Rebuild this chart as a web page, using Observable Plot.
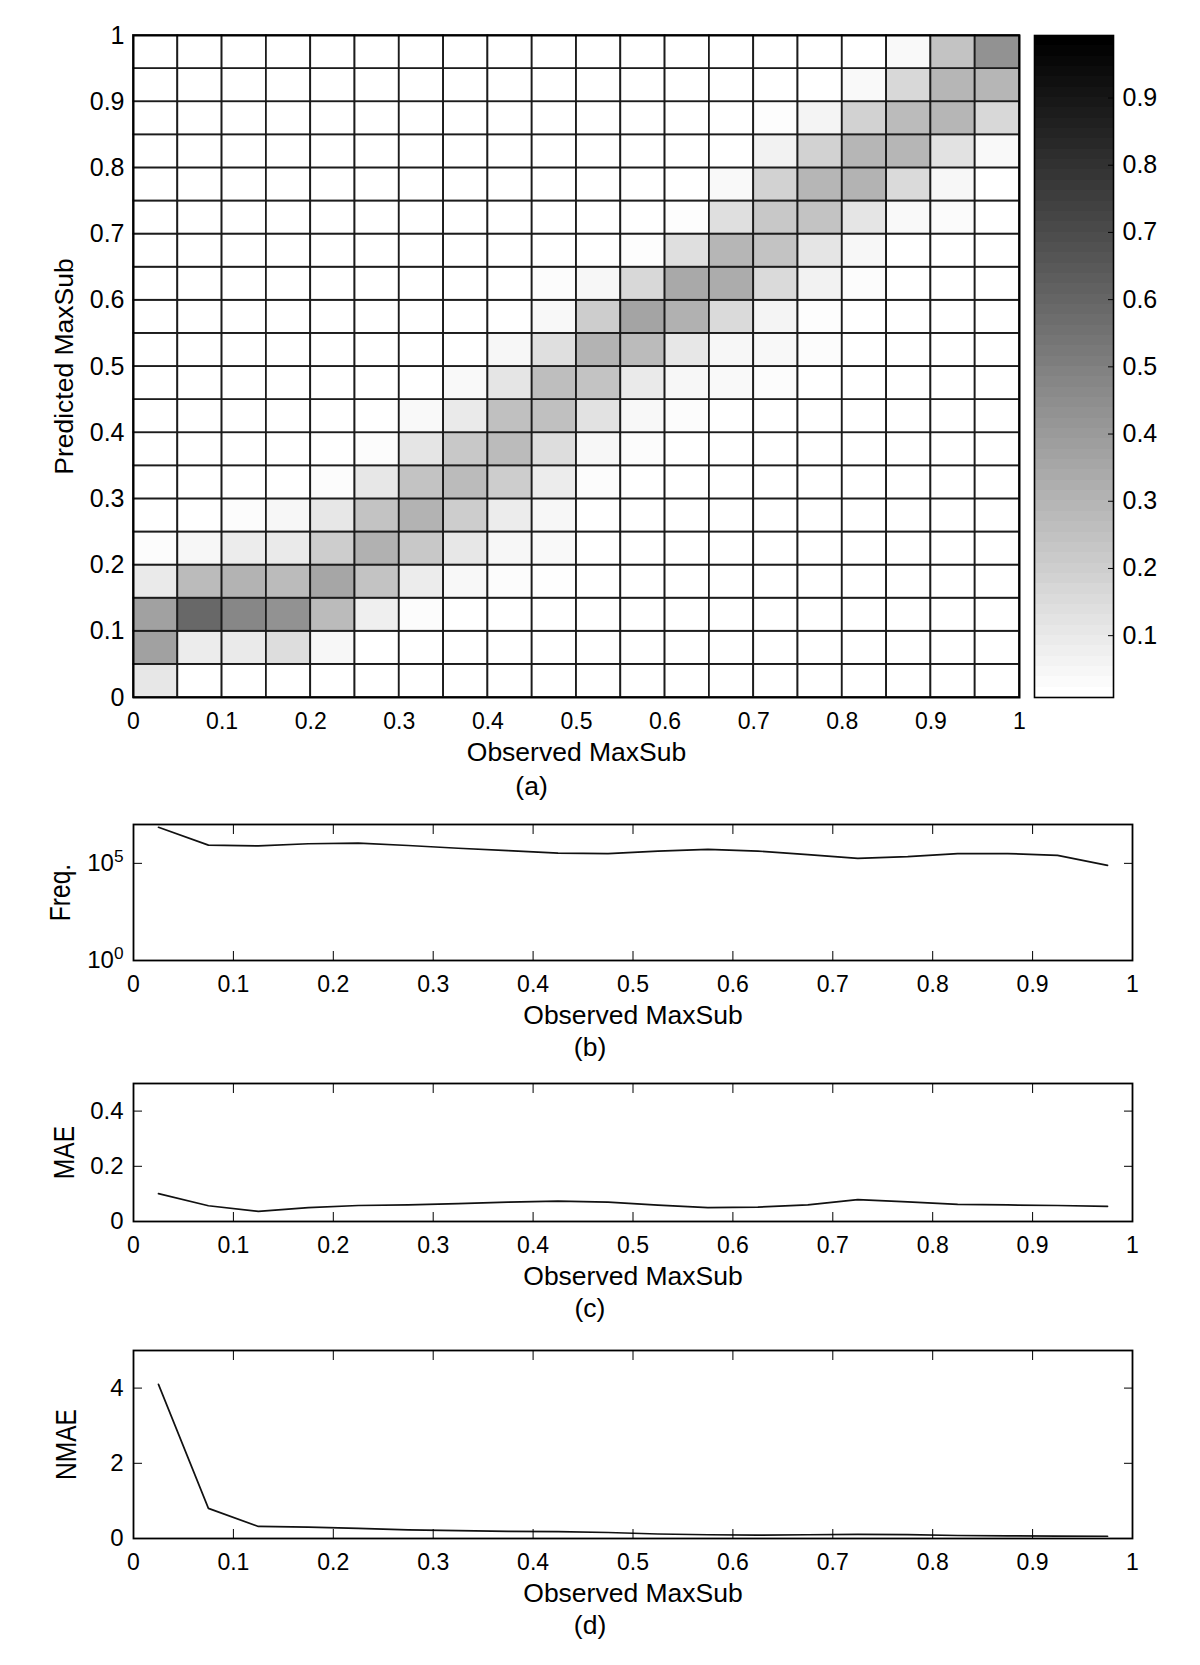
<!DOCTYPE html>
<html>
<head>
<meta charset="utf-8">
<script src="https://cdn.jsdelivr.net/npm/d3@7"></script>
<script src="https://cdn.jsdelivr.net/npm/@observablehq/plot@0.6"></script>
<style>
  html, body { margin: 0; padding: 0; background: #fff; }
  #root { position: relative; width: 1200px; height: 1665px; background: #fff; overflow: hidden; }
  #root svg { position: absolute; left: 0; }
</style>
</head>
<body>
<div id="root"></div>
<script>
// ---------- DATA ----------
const binEdges = [0, 0.05, 0.1, 0.15, 0.2, 0.25, 0.3, 0.35, 0.4, 0.45, 0.5,
                  0.55, 0.6, 0.65, 0.7, 0.75, 0.8, 0.85, 0.9, 0.95, 1];
const binCenters = [0.025, 0.075, 0.125, 0.175, 0.225, 0.275, 0.325, 0.375, 0.425, 0.475,
                    0.525, 0.575, 0.625, 0.675, 0.725, 0.775, 0.825, 0.875, 0.925, 0.975];
const unitTicks = [0, 0.1, 0.2, 0.3, 0.4, 0.5, 0.6, 0.7, 0.8, 0.9, 1];
const colorbarTicks = [0.1, 0.2, 0.3, 0.4, 0.5, 0.6, 0.7, 0.8, 0.9];

// Heatmap: one array per predicted-MaxSub bin (row 0 = 0–0.05 ... row 19 = 0.95–1),
// each entry = share for observed-MaxSub bin (column 0 = 0–0.05 ...)
const predictedRows = [
  [0.10,0,0,0,0,0,0,0,0,0,0,0,0,0,0,0,0,0,0,0],
  [0.37,0.08,0.09,0.14,0.04,0,0,0,0,0,0,0,0,0,0,0,0,0,0,0],
  [0.37,0.59,0.47,0.43,0.27,0.07,0.02,0,0,0,0,0,0,0,0,0,0,0,0,0],
  [0.09,0.27,0.30,0.27,0.35,0.24,0.08,0.035,0.02,0.01,0,0,0,0,0,0,0,0,0,0],
  [0.02,0.04,0.08,0.09,0.20,0.31,0.22,0.10,0.04,0.03,0,0,0,0,0,0,0,0,0,0],
  [0,0,0.02,0.04,0.10,0.24,0.30,0.20,0.08,0.04,0,0,0,0,0,0,0,0,0,0],
  [0,0,0,0,0.02,0.10,0.24,0.27,0.20,0.08,0.02,0,0,0,0,0,0,0,0,0],
  [0,0,0,0,0,0.02,0.11,0.22,0.27,0.14,0.04,0.02,0,0,0,0,0,0,0,0],
  [0,0,0,0,0,0,0.03,0.09,0.25,0.25,0.12,0.035,0.02,0,0,0,0,0,0,0],
  [0,0,0,0,0,0,0,0.03,0.11,0.26,0.24,0.09,0.04,0.03,0.02,0,0,0,0,0],
  [0,0,0,0,0,0,0,0,0.04,0.13,0.30,0.27,0.10,0.04,0.035,0.02,0,0,0,0],
  [0,0,0,0,0,0,0,0,0,0.035,0.20,0.36,0.31,0.15,0.05,0.015,0,0,0,0],
  [0,0,0,0,0,0,0,0,0,0.02,0.04,0.16,0.34,0.33,0.15,0.06,0.02,0,0,0],
  [0,0,0,0,0,0,0,0,0,0,0,0.015,0.13,0.29,0.24,0.11,0.04,0,0,0],
  [0,0,0,0,0,0,0,0,0,0,0,0,0.015,0.13,0.22,0.24,0.11,0.03,0.025,0],
  [0,0,0,0,0,0,0,0,0,0,0,0,0,0.03,0.18,0.29,0.30,0.15,0.04,0],
  [0,0,0,0,0,0,0,0,0,0,0,0,0,0,0.06,0.18,0.29,0.29,0.12,0.03],
  [0,0,0,0,0,0,0,0,0,0,0,0,0,0,0.015,0.05,0.18,0.27,0.29,0.16],
  [0,0,0,0,0,0,0,0,0,0,0,0,0,0,0,0,0.03,0.16,0.29,0.29],
  [0,0,0,0,0,0,0,0,0,0,0,0,0,0,0,0,0,0.03,0.24,0.43]
];
const colorLimits = [0.008, 0.993];

// (b) frequency per observed bin (log scale)
const freqValues = [7.2e6, 8.7e5, 7.9e5, 1.02e6, 1.1e6, 8.3e5, 6.0e5, 4.5e5, 3.4e5, 3.2e5,
                    4.3e5, 5.2e5, 4.3e5, 2.8e5, 1.8e5, 2.2e5, 3.2e5, 3.2e5, 2.6e5, 7.9e4];
const freqTicks = [1, 1e5];
// (c) MAE per observed bin
const maeValues = [0.101, 0.057, 0.037, 0.050, 0.058, 0.060, 0.065, 0.070, 0.074, 0.070,
                   0.059, 0.050, 0.052, 0.060, 0.079, 0.071, 0.062, 0.060, 0.058, 0.055];
const maeTicks = [0, 0.2, 0.4];
// (d) NMAE per observed bin
const nmaeValues = [4.1, 0.80, 0.32, 0.30, 0.27, 0.23, 0.21, 0.19, 0.185, 0.16,
                    0.12, 0.10, 0.09, 0.10, 0.11, 0.105, 0.08, 0.07, 0.065, 0.06];
const nmaeTicks = [0, 2, 4];

// ---------- STYLE ----------
const SANS = "'Liberation Sans', Arial, sans-serif";
const YLAB = "Liberation Sans, Arimo, sans-serif"; // marker font string for condensed y labels
const baseStyle = {background: "transparent", color: "black", fontFamily: SANS, overflow: "visible"};
const colorScale = {type: "linear", domain: colorLimits, range: ["#ffffff", "#000000"], clamp: true};
const fmt = d => String(d);
const supDigits = "⁰¹²³⁴⁵⁶⁷⁸⁹";
const root = document.getElementById("root");

function finish(svg, top) {
  // condense the panel y labels along their length
  d3.select(svg).selectAll(`g[font-family="${YLAB}"] text`).each(function () {
    const t = this.getAttribute("transform") || "";
    this.setAttribute("transform", t + " scale(0.82,1)");
  });
  // render 10^k tick labels with a real superscript
  d3.select(svg).selectAll("text").each(function () {
    const s = this.textContent;
    if (/^10[⁰¹²³⁴⁵⁶⁷⁸⁹]$/.test(s)) {
      const k = supDigits.indexOf(s[2]);
      const el = d3.select(this);
      el.text("10");
      el.append("tspan").attr("dy", "-0.55em").attr("font-size", "0.72em").text(String(k));
    }
  });
  svg.style.top = top + "px";
  root.appendChild(svg);
}

// ---------- (a) heatmap ----------
const cells = [];
predictedRows.forEach((row, j) => row.forEach((v, i) => cells.push({
  x1: binEdges[i], x2: binEdges[i + 1], y1: binEdges[j], y2: binEdges[j + 1], v
})));

const heat = Plot.plot({
  width: 1200, height: 807,
  marginLeft: 133, marginRight: 181, marginTop: 35, marginBottom: 110,
  style: baseStyle,
  x: {domain: [0, 1], label: null},
  y: {domain: [0, 1], label: null},
  color: colorScale,
  marks: [
    Plot.rect(cells, {x1: "x1", x2: "x2", y1: "y1", y2: "y2", fill: "v", stroke: "#1c1c1c", strokeWidth: 1.8}),
    Plot.frame({stroke: "#000", strokeWidth: 2}),
    Plot.axisX(unitTicks, {anchor: "bottom", tickSize: 0, tickPadding: 15, tickFormat: fmt, fontSize: 23, label: null}),
    Plot.axisY(unitTicks, {anchor: "left", tickSize: 0, tickPadding: 9, tickFormat: fmt, fontSize: 25, label: null}),
    Plot.text(["Observed MaxSub"], {text: d => d, frameAnchor: "bottom", lineAnchor: "middle", dy: 55, fontSize: 26.5}),
    Plot.text(["(a)"], {text: d => d, frameAnchor: "bottom", lineAnchor: "middle", dy: 89, dx: -45, fontSize: 26.5}),
    Plot.text(["Predicted MaxSub"], {text: d => d, frameAnchor: "left", textAnchor: "middle", lineAnchor: "middle", dx: -69, rotate: -90, fontSize: 26.5})
  ]
});
finish(heat, 0);

// ---------- colorbar ----------
const nLevels = 64;
const span = colorLimits[1] - colorLimits[0];
const levels = d3.range(nLevels).map(i => ({
  y1: colorLimits[0] + i * span / nLevels,
  y2: colorLimits[0] + (i + 1) * span / nLevels,
  v: colorLimits[0] + i * span / (nLevels - 1)
}));
const cbar = Plot.plot({
  width: 1200, height: 807,
  marginLeft: 1034, marginRight: 87, marginTop: 35, marginBottom: 110,
  style: baseStyle,
  y: {domain: colorLimits, label: null},
  color: colorScale,
  marks: [
    Plot.rect(levels, {y1: "y1", y2: "y2", fill: "v", shapeRendering: "crispEdges"}),
    Plot.frame({stroke: "#000", strokeWidth: 1.6}),
    Plot.axisY(colorbarTicks, {anchor: "right", tickSize: -6, tickFormat: () => "", label: null}),
    Plot.axisY(colorbarTicks, {anchor: "right", tickSize: 0, tickPadding: 9, tickFormat: fmt, fontSize: 25, label: null})
  ]
});
finish(cbar, 0);

// ---------- line panels ----------
function panel({values, yOpts, yTicks, yFmt, ylabel, ylabelDx, caption, marginTop, frameHeight}) {
  const data = binCenters.map((x, i) => ({x, y: values[i]}));
  return Plot.plot({
    width: 1200, height: marginTop + frameHeight + 100,
    marginLeft: 133, marginRight: 68, marginTop, marginBottom: 100,
    style: baseStyle,
    x: {domain: [0, 1], label: null},
    y: {...yOpts, label: null},
    marks: [
      Plot.line(data, {x: "x", y: "y", stroke: "#111", strokeWidth: 1.7}),
      Plot.frame({stroke: "#000", strokeWidth: 1.8}),
      Plot.axisX(unitTicks, {anchor: "bottom", tickSize: -9, tickFormat: () => "", label: null}),
      Plot.axisX(unitTicks, {anchor: "top", tickSize: -9, tickFormat: () => "", label: null}),
      Plot.axisY(yTicks, {anchor: "left", tickSize: -9, tickFormat: () => "", label: null}),
      Plot.axisY(yTicks, {anchor: "right", tickSize: -9, tickFormat: () => "", label: null}),
      Plot.axisX(unitTicks, {anchor: "bottom", tickSize: 0, tickPadding: 15, tickFormat: fmt, fontSize: 23, label: null}),
      Plot.axisY(yTicks, {anchor: "left", tickSize: 0, tickPadding: 10, tickFormat: yFmt, fontSize: 24, label: null}),
      Plot.text(["Observed MaxSub"], {text: d => d, frameAnchor: "bottom", lineAnchor: "middle", dy: 55, fontSize: 26.5}),
      Plot.text([caption], {text: d => d, frameAnchor: "bottom", lineAnchor: "middle", dy: 87, dx: -43, fontSize: 26.5}),
      Plot.text([ylabel], {text: d => d, frameAnchor: "left", textAnchor: "middle", lineAnchor: "middle", dx: ylabelDx, rotate: -90, fontSize: 30, fontFamily: YLAB})
    ]
  });
}

finish(panel({
  values: freqValues, yOpts: {type: "log", domain: [1, 1e7]}, yTicks: freqTicks,
  yFmt: d => "10" + supDigits[Math.round(Math.log10(d))],
  ylabel: "Freq.", ylabelDx: -73, caption: "(b)", marginTop: 44, frameHeight: 136
}), 780);

finish(panel({
  values: maeValues, yOpts: {domain: [0, 0.5]}, yTicks: maeTicks, yFmt: fmt,
  ylabel: "MAE", ylabelDx: -69, caption: "(c)", marginTop: 43, frameHeight: 138
}), 1040);

finish(panel({
  values: nmaeValues, yOpts: {domain: [0, 5]}, yTicks: nmaeTicks, yFmt: fmt,
  ylabel: "NMAE", ylabelDx: -67, caption: "(d)", marginTop: 45, frameHeight: 188
}), 1305);
</script>
</body>
</html>
